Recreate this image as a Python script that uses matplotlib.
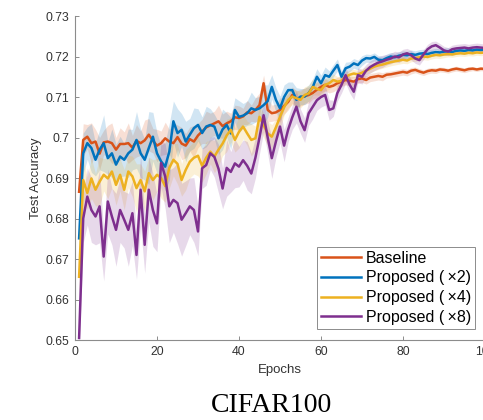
import numpy as np
import matplotlib
matplotlib.use("Agg")
import matplotlib.pyplot as plt

epochs = list(range(1, 101))

baseline = [0.6866, 0.6994, 0.7002, 0.6986, 0.6990, 0.6960, 0.6988, 0.6990, 0.6986, 0.6970,
            0.6984, 0.6984, 0.6986, 0.6975, 0.6992, 0.6986, 0.6993, 0.7007, 0.6992, 0.6980,
            0.6986, 0.6998, 0.6990, 0.6986, 0.7001, 0.6985, 0.6980, 0.6996, 0.6990, 0.7005,
            0.7015, 0.7025, 0.7030, 0.7035, 0.7040, 0.7028, 0.7035, 0.7040, 0.7050, 0.7048,
            0.7052, 0.7062, 0.7060, 0.7068, 0.7080, 0.7134, 0.7068, 0.7060, 0.7062, 0.7068,
            0.7078, 0.7088, 0.7105, 0.7095, 0.7098, 0.7102, 0.7105, 0.7110, 0.7118, 0.7125,
            0.7130, 0.7125, 0.7128, 0.7134, 0.7138, 0.7142, 0.7140, 0.7138, 0.7144, 0.7146,
            0.7142, 0.7148, 0.7150, 0.7152, 0.7150, 0.7155, 0.7156, 0.7158, 0.7160, 0.7162,
            0.7160, 0.7165, 0.7167, 0.7163, 0.7160, 0.7164, 0.7166, 0.7165, 0.7168, 0.7167,
            0.7165, 0.7168, 0.7170, 0.7168, 0.7166, 0.7169, 0.7170, 0.7168, 0.7170, 0.7169]

proposed_x2 = [0.6751, 0.6961, 0.6986, 0.6974, 0.6945, 0.6970, 0.6986, 0.6949, 0.6961, 0.6933,
               0.6953, 0.6945, 0.6961, 0.6970, 0.6994, 0.6961, 0.6945, 0.6974, 0.7002, 0.6961,
               0.6941, 0.6928, 0.6965, 0.7040, 0.7011, 0.7019, 0.6990, 0.7007, 0.7023, 0.7031,
               0.7011, 0.7027, 0.7031, 0.7027, 0.6998, 0.7020, 0.7031, 0.7010, 0.7068, 0.7051,
               0.7054, 0.7060, 0.7072, 0.7068, 0.7072, 0.7080, 0.7090, 0.7125, 0.7093, 0.7072,
               0.7100, 0.7117, 0.7117, 0.7093, 0.7101, 0.7101, 0.7110, 0.7125, 0.7150, 0.7134,
               0.7154, 0.7150, 0.7165, 0.7179, 0.7150, 0.7171, 0.7175, 0.7183, 0.7179, 0.7190,
               0.7196, 0.7195, 0.7199, 0.7192, 0.7191, 0.7196, 0.7200, 0.7198, 0.7202, 0.7204,
               0.7203, 0.7206, 0.7204, 0.7207, 0.7208, 0.7206, 0.7209, 0.7211, 0.7210, 0.7212,
               0.7213, 0.7211, 0.7214, 0.7215, 0.7214, 0.7216, 0.7215, 0.7217, 0.7216, 0.7217]

proposed_x4 = [0.6656, 0.6895, 0.6863, 0.6899, 0.6871, 0.6891, 0.6908, 0.6899, 0.6916, 0.6883,
               0.6908, 0.6871, 0.6916, 0.6904, 0.6875, 0.6895, 0.6867, 0.6912, 0.6895, 0.6908,
               0.6900, 0.6880, 0.6925, 0.6945, 0.6935, 0.6895, 0.6920, 0.6940, 0.6950, 0.6955,
               0.6930, 0.6950, 0.6965, 0.6953, 0.6970, 0.6985, 0.7005, 0.7019, 0.6994, 0.7014,
               0.7027, 0.7010, 0.6994, 0.6998, 0.7051, 0.7030, 0.7010, 0.7002, 0.7025, 0.7051,
               0.7075, 0.7093, 0.7101, 0.7097, 0.7093, 0.7105, 0.7109, 0.7125, 0.7120, 0.7117,
               0.7130, 0.7134, 0.7142, 0.7138, 0.7140, 0.7150, 0.7155, 0.7158, 0.7156, 0.7160,
               0.7165, 0.7170, 0.7175, 0.7178, 0.7180, 0.7183, 0.7186, 0.7188, 0.7190, 0.7192,
               0.7190, 0.7195, 0.7196, 0.7198, 0.7200, 0.7199, 0.7202, 0.7204, 0.7203, 0.7205,
               0.7206, 0.7205, 0.7207, 0.7208, 0.7207, 0.7209, 0.7208, 0.7210, 0.7209, 0.7210]

proposed_x8 = [0.6505, 0.6800, 0.6854, 0.6821, 0.6805, 0.6830, 0.6706, 0.6842, 0.6805, 0.6772,
               0.6821, 0.6797, 0.6772, 0.6813, 0.6710, 0.6871, 0.6735, 0.6871, 0.6821, 0.6788,
               0.6937, 0.6904, 0.6830, 0.6846, 0.6838, 0.6797, 0.6813, 0.6830, 0.6821, 0.6768,
               0.6924, 0.6932, 0.6961, 0.6952, 0.6923, 0.6874, 0.6925, 0.6915, 0.6936, 0.6928,
               0.6944, 0.6930, 0.6911, 0.6950, 0.7000, 0.7055, 0.7000, 0.6949, 0.6990, 0.7027,
               0.6980, 0.7020, 0.7050, 0.7076, 0.7040, 0.7018, 0.7060, 0.7076, 0.7092, 0.7100,
               0.7105, 0.7068, 0.7072, 0.7110, 0.7130, 0.7154, 0.7130, 0.7113, 0.7154, 0.7150,
               0.7165, 0.7174, 0.7180, 0.7185, 0.7188, 0.7192, 0.7195, 0.7200, 0.7198, 0.7205,
               0.7208, 0.7203, 0.7195, 0.7191, 0.7205, 0.7218, 0.7225, 0.7228, 0.7222, 0.7215,
               0.7212, 0.7218, 0.7220, 0.7221, 0.7222, 0.7220, 0.7222, 0.7223, 0.7222, 0.7221]

# half-width of the shaded band (x 1e-3)
spread_baseline = [3, 4, 3, 5, 3, 4, 3, 4, 5, 3, 4, 3, 5, 3, 4, 3, 5, 4, 3, 4,
                   3, 4, 3, 5, 3, 4, 3, 3, 4, 3, 3, 4, 3, 3, 4, 3, 3, 2, 3, 3,
                   2, 3, 2, 3, 3, 2, 3, 2, 2, 3, 2, 2, 2, 2, 2, 2, 2, 1.5, 2, 1.5,
                   1.5, 1.5, 1.5, 1.5, 1.2, 1.2, 1.2, 1.2, 1, 1, 1, 1, 1, 1, 1, 0.8, 0.8, 0.8, 0.8, 0.8,
                   0.8, 0.8, 0.7, 0.7, 0.7, 0.7, 0.7, 0.7, 0.6, 0.6, 0.6, 0.6, 0.6, 0.6, 0.6, 0.6, 0.5, 0.5, 0.5, 0.5]
spread_x2 = [4, 5, 4, 6, 4, 5, 7, 4, 6, 5, 5, 4, 6, 5, 7, 6, 5, 9, 6, 5,
             4, 6, 7, 5, 6, 4, 5, 4, 5, 4, 4, 5, 4, 3, 4, 5, 3, 4, 3, 4,
             3, 3, 4, 3, 3, 5, 4, 3, 3, 3, 3, 2, 2, 3, 2, 2, 2, 2, 2, 2,
             2, 1.5, 1.5, 1.5, 1.5, 1.5, 1.2, 1.2, 1.2, 1.2, 1, 1, 1, 1, 1, 1, 1, 1, 1, 1,
             1, 1, 1, 1, 1, 1, 0.9, 0.9, 0.9, 0.9, 0.9, 0.8, 0.8, 0.8, 0.8, 0.8, 0.8, 0.8, 0.8, 0.8]
spread_x4 = [5, 5, 4, 5, 4, 6, 4, 5, 4, 5, 4, 5, 4, 5, 6, 4, 5, 4, 5, 4,
             5, 4, 5, 4, 5, 4, 5, 4, 4, 5, 4, 4, 3, 4, 4, 3, 4, 3, 3, 4,
             3, 3, 4, 3, 3, 3, 3, 3, 2, 3, 2, 2, 2, 2, 2, 2, 2, 2, 1.5, 1.5,
             1.5, 1.5, 1.5, 1.2, 1.2, 1.2, 1.2, 1, 1, 1, 1, 1, 1, 1, 0.9, 0.9, 0.9, 0.9, 0.9, 0.9,
             0.8, 0.8, 0.8, 0.8, 0.8, 0.8, 0.8, 0.8, 0.8, 0.8, 0.7, 0.7, 0.7, 0.7, 0.7, 0.7, 0.7, 0.7, 0.7, 0.7]
spread_x8 = [3, 6, 7, 8, 7, 9, 6, 8, 7, 9, 8, 7, 9, 8, 6, 9, 7, 8, 9, 7,
             6, 8, 9, 8, 10, 9, 8, 7, 8, 6, 5, 5, 4, 5, 6, 5, 7, 5, 6, 5,
             5, 6, 5, 5, 4, 4, 4, 5, 4, 4, 4, 3, 3, 4, 3, 3, 3, 3, 2.5, 2.5,
             2.5, 2.5, 2, 2, 2, 2, 2, 2, 1.8, 1.8, 1.5, 1.5, 1.5, 1.5, 1.5, 1.3, 1.3, 1.3, 1.3, 1.3,
             1.2, 1.2, 1.2, 1.2, 1.2, 1.2, 1.2, 1.0, 1.0, 1.0, 1, 1, 1, 1, 1, 1, 1, 1, 1, 1]

labels = ["Baseline", "Proposed (\u2009×2)", "Proposed (\u2009×4)", "Proposed (\u2009×8)"]
colors = ["#D95319", "#0072BD", "#EDB120", "#7E2F8E"]
series = [baseline, proposed_x2, proposed_x4, proposed_x8]
spreads = [spread_baseline, spread_x2, spread_x4, spread_x8]

yticks = [0.65, 0.66, 0.67, 0.68, 0.69, 0.70, 0.71, 0.72, 0.73]
ytick_labels = ["0.65", "0.66", "0.67", "0.68", "0.69", "0.7", "0.71", "0.72", "0.73"]
xticks = [0, 20, 40, 60, 80, 100]

plt.rcParams['font.family'] = ['Liberation Sans', 'DejaVu Sans']

fig = plt.figure(figsize=(4.83, 4.2), dpi=100)
ax = fig.add_axes([75 / 483, 80 / 420, 410 / 483, 324 / 420])

x = np.array(epochs)
for vals, sp, c in zip(series, spreads, colors):
    v = np.array(vals)
    s = np.array(sp) * 1e-3
    ax.fill_between(x, v - s, v + s, color=c, alpha=0.18, linewidth=0)
lines = []
for vals, c, lab in zip(series, colors, labels):
    ln, = ax.plot(x, vals, color=c, linewidth=1.8, label=lab)
    lines.append(ln)

ax.set_xlim(0, 100)
ax.set_ylim(0.65, 0.73)
ax.set_yticks(yticks)
ax.set_yticklabels(ytick_labels)
ax.set_xticks(xticks)
for sp in ["top", "right"]:
    ax.spines[sp].set_visible(False)
for sp in ["left", "bottom"]:
    ax.spines[sp].set_color("#8c8c8c")
    ax.spines[sp].set_linewidth(0.8)
ax.tick_params(direction="in", length=3, width=0.7, color="#8c8c8c",
               labelsize=8.8, labelcolor="#333333", pad=4)

ax.set_xlabel("Epochs", fontsize=9.5, color="#333333", labelpad=5)
ax.set_ylabel("Test Accuracy", fontsize=9.5, color="#333333", labelpad=2.5)

leg = ax.legend(handles=lines, loc="lower right", bbox_to_anchor=(475 / 483, 91 / 420),
                bbox_transform=fig.transFigure, fontsize=11.5, frameon=True, fancybox=False,
                borderaxespad=0, handlelength=2.5, handletextpad=0.3, borderpad=0.25,
                labelspacing=0.3, edgecolor="#8c8c8c", framealpha=1)
leg.get_frame().set_linewidth(0.7)

fig.text(272 / 483, 1 - 405 / 420, "CIFAR100", family=["Liberation Serif", "DejaVu Serif"],
         fontsize=20, ha="center", va="center", color="black")

fig.savefig("out.png", dpi=100)
